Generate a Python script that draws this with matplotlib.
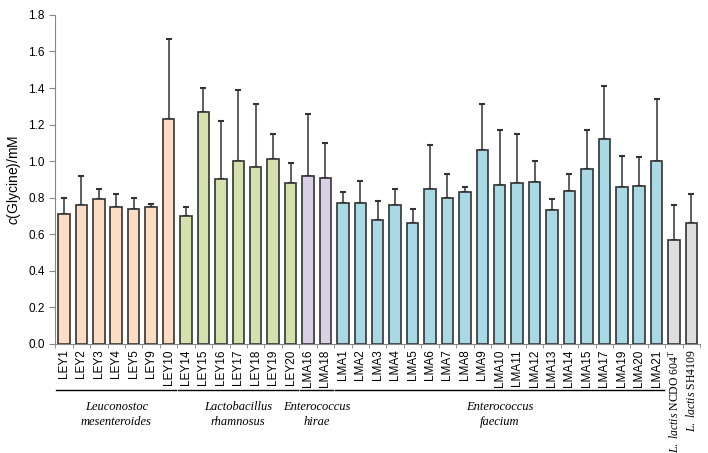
import matplotlib
matplotlib.use("Agg")
import matplotlib.pyplot as plt
import matplotlib.transforms as mtransforms
import numpy as np

plt.rcParams['font.family'] = 'Liberation Sans'
plt.rcParams['mathtext.fontset'] = 'custom'
plt.rcParams['mathtext.rm'] = 'Liberation Serif'
plt.rcParams['mathtext.it'] = 'Liberation Serif:italic'
plt.rcParams['mathtext.sf'] = 'Liberation Sans:italic'

strains = ["LEY1", "LEY2", "LEY3", "LEY4", "LEY5", "LEY9", "LEY10",
           "LEY14", "LEY15", "LEY16", "LEY17", "LEY18", "LEY19", "LEY20",
           "LMA16", "LMA18",
           "LMA1", "LMA2", "LMA3", "LMA4", "LMA5", "LMA6", "LMA7", "LMA8",
           "LMA9", "LMA10", "LMA11", "LMA12", "LMA13", "LMA14", "LMA15",
           "LMA17", "LMA19", "LMA20", "LMA21",
           r"$\it{L.\ lactis}$ NCDO 604$^{\rm T}$", r"$\it{L.\ lactis}$ SH4109"]
glycine = [0.71, 0.76, 0.79, 0.75, 0.74, 0.75, 1.23,
           0.70, 1.27, 0.90, 1.00, 0.97, 1.01, 0.88,
           0.92, 0.91,
           0.77, 0.77, 0.68, 0.76, 0.66, 0.85, 0.80, 0.83,
           1.06, 0.87, 0.88, 0.885, 0.73, 0.835, 0.955,
           1.12, 0.86, 0.865, 1.00,
           0.57, 0.66]
err_top = [0.80, 0.92, 0.85, 0.82, 0.80, 0.765, 1.67,
           0.75, 1.40, 1.22, 1.39, 1.31, 1.15, 0.99,
           1.26, 1.10,
           0.83, 0.89, 0.78, 0.85, 0.74, 1.09, 0.93, 0.86,
           1.31, 1.17, 1.15, 1.00, 0.795, 0.93, 1.17,
           1.41, 1.03, 1.025, 1.34,
           0.76, 0.82]
group_sizes = [7, 7, 2, 19, 2]
group_colors = ["#FCDCC2", "#D4E1AC", "#D9D0E5", "#A8D9E5", "#DEDEDE"]
group_names = ["Leuconostoc\nmesenteroides", "Lactobacillus\nrhamnosus",
               "Enterococcus\nhirae", "Enterococcus\nfaecium"]

colors = []
for size, c in zip(group_sizes, group_colors):
    colors += [c] * size

x = np.arange(len(strains))
vals = np.array(glycine)
errs = np.array(err_top) - vals

fig = plt.figure(figsize=(7.08, 4.53), dpi=100)
ax = fig.add_axes([0.078, 0.241, 0.911, 0.726])

ax.bar(x, vals, width=0.66, color=colors, edgecolor="#333333", linewidth=1.2, zorder=2)
ax.errorbar(x, vals, yerr=[np.zeros_like(errs), errs], fmt="none",
            ecolor="#333333", elinewidth=1.1, capsize=2.5, capthick=1.5, zorder=1)

ax.set_xlim(-0.5, len(strains) - 0.5)
ax.set_ylim(0, 1.8)
ax.set_yticks(np.arange(0, 1.81, 0.2))
ax.set_yticklabels([f"{v:.1f}" for v in np.arange(0, 1.81, 0.2)], fontsize=8.5)
ax.set_ylabel(r"$\mathsf{c}$(Glycine)/mM", fontsize=10, labelpad=4)

ax.set_xticks(x)
ax.set_xticklabels(strains, rotation=90, fontsize=8.5)
for lbl in ax.get_xticklabels()[-2:]:
    lbl.set_fontfamily("Liberation Serif")
ax.tick_params(axis="x", which="major", length=0, pad=4)
ax.set_xticks(np.arange(-0.5, len(strains), 1), minor=True)
ax.tick_params(axis="x", which="minor", length=3, color="#888888")
ax.tick_params(axis="y", length=4, color="#888888")

for s in ["top", "right"]:
    ax.spines[s].set_visible(False)
for s in ["left", "bottom"]:
    ax.spines[s].set_color("#888888")

# group lines and names below the tick labels
trans = mtransforms.blended_transform_factory(ax.transData, ax.transAxes)
start = 0
for size, name in zip(group_sizes[:-1], group_names):
    end = start + size - 1
    ax.plot([start - 0.45, end + 0.45], [-0.14, -0.14], color="black",
            linewidth=1.0, transform=trans, clip_on=False)
    ax.text((start + end) / 2, -0.175, name, transform=trans, ha="center", va="top",
            fontsize=9, fontfamily="Liberation Serif", style="italic", linespacing=1.25)
    start += size

plt.savefig("out.png", dpi=100)
plt.close()
